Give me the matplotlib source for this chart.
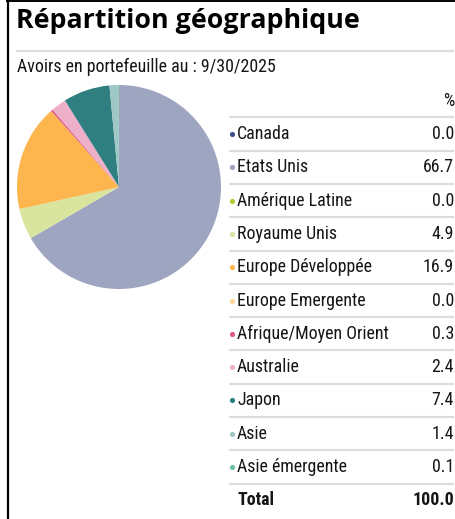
import matplotlib.pyplot as plt
from matplotlib.lines import Line2D

W, H = 455, 519

regions = ["Canada", "Etats Unis", "Amérique Latine", "Royaume Unis",
           "Europe Développée", "Europe Emergente", "Afrique/Moyen Orient",
           "Australie", "Japon", "Asie", "Asie émergente"]
weights = [0.0, 66.7, 0.0, 4.9, 16.9, 0.0, 0.3, 2.4, 7.4, 1.4, 0.1]
colors = ["#3d4f8a", "#9ea5c0", "#b5c935", "#d9e49f", "#fdb54d", "#fdd899",
          "#dd5a8b", "#eeb0c9", "#2f7e80", "#9ec7c6", "#6cc0a2"]
total_label = "100.0"

title = "Répartition géographique"
subtitle = "Avoirs en portefeuille au : 9/30/2025"

narrow = ["Roboto Condensed", "DejaVu Sans"]
fs = 12.9
ink = "#151515"


def fx(px):
    return px / W


def fy(py):
    return 1 - py / H


fig = plt.figure(figsize=(W / 100, H / 100), dpi=100)

# frame lines (left border, top rule, title separator)
fig.add_artist(Line2D([fx(7.5), fx(7.5)], [0, 1], color="black", lw=1.6))
fig.add_artist(Line2D([fx(7), 1], [fy(0.8), fy(0.8)], color="black", lw=1.4))
fig.add_artist(Line2D([fx(17), fx(453)], [fy(51), fy(51)], color="#dcdcdc", lw=1.5))

fig.text(fx(16), fy(21), title, fontsize=19.3, fontweight="bold",
         family=["Open Sans", "DejaVu Sans"], va="center", ha="left")
fig.text(fx(17), fy(67), subtitle, fontsize=fs, family=narrow,
         va="center", ha="left", color=ink)

# pie
cx, cy, r = 119, 187, 102
pax = fig.add_axes([fx(cx - r), fy(cy + r), (2 * r) / W, (2 * r) / H])
pax.pie(weights, colors=colors, startangle=90, counterclock=False,
        wedgeprops=dict(linewidth=0))
pax.set_xlim(-1, 1)
pax.set_ylim(-1, 1)
pax.axis("off")

# table
top_px, bot_px, row0, step = 85.5, 517, 134, 33.3
tax = fig.add_axes([fx(229), fy(bot_px), (W - 229) / W, (bot_px - top_px) / H])
tax.set_xlim(0, W - 229)
tax.set_ylim((bot_px - row0) / step, (top_px - row0) / step)
tax.axis("off")

tax.text(225, -1, "%", fontsize=fs, family=narrow, ha="right", va="center",
         color=ink)
for i in range(len(regions) + 1):
    tax.plot([0, 225], [i - 0.5, i - 0.5], color="#dcdcdc", lw=1.6,
             solid_capstyle="butt")
for i, (name, val, c) in enumerate(zip(regions, weights, colors)):
    tax.scatter([2.5], [i], s=14, color=c, linewidths=0)
    tax.text(8, i, name, fontsize=fs, family=narrow, ha="left", va="center",
             color=ink)
    tax.text(225, i, f"{val:.1f}", fontsize=fs, family=narrow, ha="right",
             va="center", color=ink)
n = len(regions)
tax.text(8, n, "Total", fontsize=fs, family=narrow, fontweight="bold",
         ha="left", va="center", color=ink)
tax.text(225, n, total_label, fontsize=fs, family=narrow, fontweight="bold",
         ha="right", va="center", color=ink)

fig.savefig("out.png", dpi=100)
